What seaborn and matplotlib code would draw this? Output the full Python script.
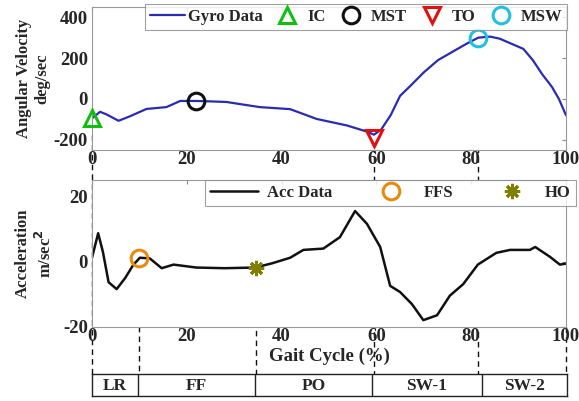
import matplotlib
matplotlib.use('Agg')
import matplotlib.pyplot as plt
import matplotlib.transforms as mtransforms
from matplotlib.lines import Line2D
import seaborn as sns
import pandas as pd

# gyro signal (angular velocity, deg/sec) over gait cycle (%)
gyro_x = [0, 1.7, 3, 5.6, 8, 11.5, 15.7, 18.6, 22, 25, 28.4, 32, 35.4, 41.8,
          47.4, 53.8, 58, 59.5, 61, 63, 65, 67, 70, 73, 76, 79, 81.5, 84,
          86, 89, 91, 93, 95, 97, 98.5, 100]
gyro_y = [-95, -63, -75, -107, -85, -49, -40, -10, -10, -12, -15, -28, -40, -50,
          -98, -130, -160, -175, -150, -80, 15, 60, 130, 190, 230, 270, 300, 305,
          295, 265, 245, 190, 120, 60, 0, -80]

# accelerometer signal (m/sec^2)
acc_x = [0, 1.3, 2.3, 3.5, 5.2, 7, 8.7, 10.1, 12.2, 14.7, 17.2, 22, 28, 34.4,
         38, 41.8, 44.6, 48.8, 52.3, 55.5, 58, 60.8, 62.9, 65, 67.5, 69.9, 72.8,
         75.5, 78.3, 81.4, 85.3, 88.2, 92.4, 93.5, 96.6, 98.7, 100]
acc_y = [1.2, 8.7, 3, -6.3, -8.4, -5, -1, 1.2, 1, -2, -0.9, -1.8, -2, -1.8,
         -0.5, 1.2, 3.6, 4, 7.5, 15.5, 11.6, 4.5, -7.4, -9.3, -13, -17.9, -16.4,
         -10.4, -6.9, -0.9, 2.7, 3.6, 3.6, 4.5, 1.5, -0.9, -0.6]

# gait events
gyro_events = ['IC', 'MST', 'TO', 'MSW']
gyro_ev_x = [0, 22, 59.5, 81.5]
gyro_ev_y = [-95, -12, -190, 300]
acc_events = ['FFS', 'HO']
acc_ev_x = [10, 34.5]
acc_ev_y = [1.2, -1.8]

# gait phases
phase_names = ['LR', 'FF', 'PO', 'SW-1', 'SW-2']
phase_edges = [0, 9.7, 34.4, 59, 82, 100]

sns.set_style('white')
plt.rcParams['font.family'] = ['Liberation Serif', 'DejaVu Serif']
plt.rcParams['font.weight'] = 'bold'
plt.rcParams['axes.labelweight'] = 'bold'
plt.rcParams['axes.unicode_minus'] = False
plt.rcParams['mathtext.default'] = 'bf'

W, H = 579, 401
fig = plt.figure(figsize=(W / 100, H / 100), dpi=100)

def box(x0, y0, x1, y1):
    return [x0 / W, 1 - y1 / H, (x1 - x0) / W, (y1 - y0) / H]

ax1 = fig.add_axes(box(92, 7, 566, 150))
ax2 = fig.add_axes(box(92, 180, 566, 327))
ax3 = fig.add_axes(box(92, 374, 567, 396))

gyro = pd.DataFrame({'x': gyro_x, 'y': gyro_y})
acc = pd.DataFrame({'x': acc_x, 'y': acc_y})

sns.lineplot(data=gyro, x='x', y='y', ax=ax1, color='#2b2bb0', lw=1.6,
             label='Gyro Data', sort=False)
sns.lineplot(data=acc, x='x', y='y', ax=ax2, color='#111111', lw=1.8,
             label='Acc Data', sort=False)

g_style = {'IC': ('^', '#10c010'), 'MST': ('o', '#111111'),
           'TO': ('v', '#e01010'), 'MSW': ('o', '#20c0e0')}
for name, ex, ey in zip(gyro_events, gyro_ev_x, gyro_ev_y):
    m, c = g_style[name]
    ax1.plot(ex, ey, marker=m, ms=12, mfc='none', mec=c, mew=2.2, ls='none',
             label=name, clip_on=False, zorder=5)

a_style = {'FFS': ('o', '#e88a10', 12, 'none'), 'HO': ((8, 2, 0), '#808000', 11, '#808000')}
for name, ex, ey in zip(acc_events, acc_ev_x, acc_ev_y):
    m, c, s, f = a_style[name]
    ax2.plot(ex, ey, marker=m, ms=s, mfc=f, mec=c, mew=2.2, ls='none',
             label=name, zorder=5)

ax1.set_ylim(-250, 450)
ax1.set_yticks([-200, 0, 200, 400])
ax2.set_ylim(-20, 25)
ax2.set_yticks([-20, 0, 20])

for ax in (ax1, ax2):
    ax.set_xlim(0, 100)
    ax.set_xticks([0, 20, 40, 60, 80, 100])
    ax.tick_params(direction='in', length=3, labelsize=13.5, pad=1,
                   top=True, right=True, color='#888888')
    ax.tick_params(axis='y', pad=3)
    for s in ax.spines.values():
        s.set_color('#999999')
        s.set_linewidth(0.8)
    for lab in ax.get_xticklabels() + ax.get_yticklabels():
        lab.set_fontweight('bold')

ax1.set_xlabel('')
ax1.set_ylabel('Angular Velocity\ndeg/sec', fontsize=12, fontweight='bold', labelpad=2)
ax2.set_ylabel('Acceleration\nm/sec$^2$', fontsize=12, fontweight='bold', labelpad=6)
ax2.set_xlabel('Gait Cycle (%)', fontsize=13.5, fontweight='bold', labelpad=2)

leg1 = ax1.legend(loc='upper left', bbox_to_anchor=(145 / W, 1 - 4 / H),
                  bbox_transform=fig.transFigure, ncol=5, frameon=True,
                  fancybox=False, edgecolor='#888888', borderaxespad=0,
                  fontsize=12, handlelength=2.1, handletextpad=0.15,
                  columnspacing=0.45, borderpad=0.3)
leg1.get_frame().set_linewidth(0.8)
leg2 = ax2.legend(loc='upper left', bbox_to_anchor=(205 / W, 1 - 180 / H),
                  bbox_transform=fig.transFigure, ncol=3, frameon=True,
                  fancybox=False, edgecolor='#888888', borderaxespad=0,
                  fontsize=12, handlelength=2.9, handletextpad=0.5,
                  columnspacing=2.1, borderpad=0.3)
leg2.get_frame().set_linewidth(0.8)
for t in leg1.get_texts() + leg2.get_texts():
    t.set_fontweight('bold')

# phase table
ax3.set_xlim(0, 100)
ax3.set_ylim(0, 1)
ax3.set_xticks([])
ax3.set_yticks([])
for s in ax3.spines.values():
    s.set_color('#222222')
    s.set_linewidth(1.0)
for e in phase_edges[1:-1]:
    ax3.axvline(e, color='#222222', lw=1.0)
for name, a, b in zip(phase_names, phase_edges[:-1], phase_edges[1:]):
    ax3.text((a + b) / 2, 0.45, name, ha='center', va='center',
             fontsize=12.5, fontweight='bold')

# dashed event lines running down to the phase table
def vdash(ax, x, y_top_px, y_bot_px):
    tr = mtransforms.blended_transform_factory(ax.transData, fig.transFigure)
    fig.add_artist(Line2D([x, x], [1 - y_top_px / H, 1 - y_bot_px / H],
                          transform=tr, color='#111111', lw=1.0,
                          ls=(0, (4, 3)), zorder=0))

vdash(ax1, 0, 135, 374)
vdash(ax1, 59.5, 147, 374)
vdash(ax1, 81.5, 40, 374)
vdash(ax2, 10, 268, 374)
vdash(ax2, 34.5, 272, 374)
vdash(ax2, 100, 327, 374)

fig.savefig('out.png', dpi=100)
